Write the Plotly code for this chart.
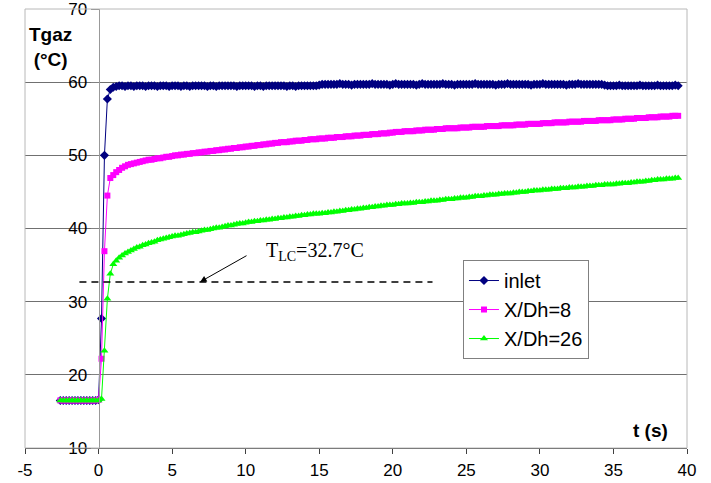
import numpy as np
import plotly.graph_objects as go

# ---------------- data ----------------
T_START = -2.6          # first sample time (s)
T_STEP = 0.2            # sampling period (s)
N_SAMPLES = 211
time_s = np.round(T_START + T_STEP * np.arange(N_SAMPLES), 1)

inlet_degC = [
    16.5, 16.5, 16.5, 16.5, 16.5, 16.5, 16.5, 16.5, 16.5, 16.5, 16.5, 16.5, 16.5,
    16.6, 27.7, 50.0, 57.7, 59.0,
    59.3, 59.4, 59.5, 59.5, 59.4,
    59.5, 59.5, 59.4, 59.5, 59.5,
    59.5, 59.4, 59.5, 59.5, 59.5,
    59.4, 59.5, 59.5, 59.5, 59.4,
    59.5, 59.5, 59.5, 59.4, 59.5,
    59.5, 59.4, 59.5, 59.5, 59.5,
    59.5, 59.5, 59.4, 59.5, 59.5,
    59.4, 59.5, 59.5, 59.5, 59.5,
    59.5, 59.5, 59.4, 59.5, 59.5,
    59.5, 59.5, 59.5, 59.4, 59.5,
    59.5, 59.4, 59.5, 59.5, 59.5,
    59.5, 59.5, 59.5, 59.5, 59.4,
    59.5, 59.5, 59.4, 59.5, 59.5,
    59.5, 59.5, 59.5, 59.5, 59.5,
    59.6, 59.7, 59.7, 59.7, 59.7,
    59.7, 59.7, 59.8, 59.7, 59.7,
    59.7, 59.6, 59.7, 59.7, 59.7,
    59.7, 59.7, 59.7, 59.8, 59.7,
    59.7, 59.7, 59.7, 59.7, 59.6,
    59.7, 59.8, 59.7, 59.7, 59.7,
    59.7, 59.7, 59.7, 59.6, 59.7,
    59.8, 59.7, 59.7, 59.7, 59.7,
    59.7, 59.7, 59.8, 59.7, 59.7,
    59.7, 59.6, 59.7, 59.7, 59.7,
    59.7, 59.7, 59.7, 59.8, 59.7,
    59.7, 59.7, 59.7, 59.7, 59.7,
    59.6, 59.7, 59.7, 59.7, 59.8,
    59.7, 59.7, 59.7, 59.7, 59.7,
    59.7, 59.7, 59.6, 59.7, 59.7,
    59.7, 59.8, 59.7, 59.7, 59.7,
    59.7, 59.7, 59.7, 59.7, 59.6,
    59.7, 59.7, 59.7, 59.8, 59.7,
    59.7, 59.7, 59.7, 59.7, 59.7,
    59.7, 59.7, 59.6, 59.5, 59.5,
    59.5, 59.5, 59.6, 59.5, 59.5,
    59.5, 59.5, 59.5, 59.5, 59.6,
    59.5, 59.5, 59.5, 59.5, 59.5,
    59.6, 59.5, 59.5, 59.5, 59.5,
    59.5, 59.6, 59.5,
]

xdh8_degC = [
    16.5, 16.5, 16.5, 16.5, 16.5, 16.5, 16.5, 16.5, 16.5, 16.5, 16.5, 16.5, 16.5,
    16.6, 22.2, 36.9, 44.5, 46.9,
    47.3, 47.7, 48.0, 48.3, 48.5,
    48.7, 48.8, 48.9, 49.0, 49.1,
    49.2, 49.3, 49.4, 49.4, 49.5,
    49.6, 49.6, 49.7, 49.8, 49.8,
    49.9, 50.0, 50.0, 50.1, 50.1,
    50.2, 50.2, 50.3, 50.3, 50.4,
    50.4, 50.5, 50.5, 50.6, 50.6,
    50.7, 50.7, 50.8, 50.8, 50.9,
    50.9, 51.0, 51.0, 51.1, 51.1,
    51.2, 51.2, 51.3, 51.3, 51.4,
    51.4, 51.5, 51.5, 51.6, 51.6,
    51.7, 51.7, 51.8, 51.8, 51.8,
    51.9, 51.9, 52.0, 52.0, 52.0,
    52.1, 52.1, 52.2, 52.2, 52.2,
    52.3, 52.3, 52.3, 52.4, 52.4,
    52.4, 52.5, 52.5, 52.5, 52.6,
    52.6, 52.6, 52.7, 52.7, 52.7,
    52.8, 52.8, 52.8, 52.9, 52.9,
    52.9, 53.0, 53.0, 53.0, 53.1,
    53.1, 53.2, 53.2, 53.2, 53.3,
    53.3, 53.3, 53.3, 53.4, 53.4,
    53.4, 53.5, 53.5, 53.5, 53.5,
    53.6, 53.6, 53.6, 53.7, 53.7,
    53.7, 53.7, 53.7, 53.8, 53.8,
    53.8, 53.8, 53.9, 53.9, 53.9,
    53.9, 53.9, 54.0, 54.0, 54.0,
    54.0, 54.0, 54.1, 54.1, 54.1,
    54.1, 54.1, 54.2, 54.2, 54.2,
    54.2, 54.3, 54.3, 54.3, 54.3,
    54.3, 54.4, 54.4, 54.4, 54.4,
    54.5, 54.5, 54.5, 54.5, 54.5,
    54.6, 54.6, 54.6, 54.6, 54.6,
    54.7, 54.7, 54.7, 54.7, 54.7,
    54.8, 54.8, 54.8, 54.8, 54.8,
    54.9, 54.9, 54.9, 54.9, 55.0,
    55.0, 55.0, 55.0, 55.1, 55.1,
    55.1, 55.1, 55.2, 55.2, 55.2,
    55.2, 55.3, 55.3, 55.3, 55.3,
    55.4, 55.4, 55.4,
]

xdh26_degC = [
    16.5, 16.5, 16.5, 16.5, 16.5, 16.5, 16.5, 16.5, 16.5, 16.5, 16.5, 16.5, 16.5,
    16.5, 16.7, 23.3, 30.4, 33.8,
    35.1, 35.6, 36.0, 36.3, 36.6,
    36.8, 37.0, 37.2, 37.4, 37.5,
    37.7, 37.8, 38.0, 38.1, 38.2,
    38.4, 38.5, 38.6, 38.7, 38.8,
    38.9, 39.0, 39.0, 39.1, 39.2,
    39.3, 39.4, 39.5, 39.5, 39.6,
    39.7, 39.8, 39.8, 39.9, 40.0,
    40.1, 40.1, 40.2, 40.3, 40.4,
    40.4, 40.5, 40.6, 40.7, 40.7,
    40.8, 40.9, 40.9, 41.0, 41.0,
    41.1, 41.1, 41.2, 41.2, 41.3,
    41.3, 41.4, 41.4, 41.5, 41.5,
    41.6, 41.6, 41.7, 41.7, 41.8,
    41.8, 41.9, 41.9, 42.0, 42.0,
    42.0, 42.1, 42.1, 42.2, 42.2,
    42.3, 42.3, 42.4, 42.4, 42.5,
    42.5, 42.6, 42.6, 42.7, 42.7,
    42.8, 42.8, 42.9, 42.9, 43.0,
    43.0, 43.1, 43.1, 43.2, 43.2,
    43.2, 43.3, 43.3, 43.4, 43.4,
    43.4, 43.5, 43.5, 43.6, 43.6,
    43.6, 43.7, 43.7, 43.8, 43.8,
    43.8, 43.9, 43.9, 44.0, 44.0,
    44.0, 44.1, 44.1, 44.2, 44.2,
    44.2, 44.3, 44.3, 44.4, 44.4,
    44.4, 44.5, 44.5, 44.6, 44.6,
    44.6, 44.7, 44.7, 44.8, 44.8,
    44.8, 44.9, 44.9, 45.0, 45.0,
    45.0, 45.1, 45.1, 45.2, 45.2,
    45.2, 45.3, 45.3, 45.3, 45.4,
    45.4, 45.4, 45.5, 45.5, 45.5,
    45.6, 45.6, 45.6, 45.7, 45.7,
    45.7, 45.8, 45.8, 45.8, 45.9,
    45.9, 45.9, 46.0, 46.0, 46.0,
    46.0, 46.1, 46.1, 46.2, 46.2,
    46.2, 46.3, 46.3, 46.4, 46.4,
    46.4, 46.5, 46.5, 46.6, 46.6,
    46.7, 46.7, 46.7, 46.8, 46.8,
    46.8, 46.9, 46.9,
]

series_names = ["inlet", "X/Dh=8", "X/Dh=26"]

# liquid-crystal reference temperature line
T_LC = 32.7
tlc_line_t = [-1.3, 22.7]
tlc_line_T = [T_LC, T_LC]

x_ticks = [-5, 0, 5, 10, 15, 20, 25, 30, 35, 40]
x_ticklabels = ["-5", "0", "5", "10", "15", "20", "25", "30", "35", "40"]
y_ticks = [10, 20, 30, 40, 50, 60, 70]

for arr in (inlet_degC, xdh8_degC, xdh26_degC):
    if len(arr) != N_SAMPLES:
        raise ValueError(f"series length {len(arr)} != {N_SAMPLES}")

# ---------------- figure ----------------
fig = go.Figure()

styles = [
    dict(color="#000080", symbol="diamond", size=7),
    dict(color="#FF00FF", symbol="square", size=6),
    dict(color="#00FF00", symbol="triangle-up", size=7),
]
for name, vals, st in zip(series_names, [inlet_degC, xdh8_degC, xdh26_degC], styles):
    fig.add_trace(go.Scatter(
        x=time_s, y=vals, name=name, mode="lines+markers",
        line=dict(color=st["color"], width=1),
        marker=dict(color=st["color"], symbol=st["symbol"], size=st["size"],
                    line=dict(width=0)),
    ))

fig.add_trace(go.Scatter(
    x=tlc_line_t, y=tlc_line_T, mode="lines", showlegend=False,
    line=dict(color="black", width=1.5, dash="7px,5px"),
))

fig.update_layout(
    width=711, height=483,
    margin=dict(l=25, r=24, t=9, b=35, autoexpand=False),
    paper_bgcolor="white", plot_bgcolor="white",
    font=dict(family="Liberation Sans, Arial, sans-serif", size=17, color="black"),
    xaxis=dict(
        range=[-5, 40], tickvals=x_ticks, ticktext=x_ticklabels,
        ticks="outside", ticklen=5,
        tickcolor="#404040", showline=True, linecolor="#404040", linewidth=1,
        showgrid=False, zeroline=False, automargin=False, ticklabelstandoff=2,
        ticklabeloverflow="allow",
    ),
    yaxis=dict(
        range=[10, 70], tickvals=y_ticks, ticks="outside", ticklen=8,
        tickcolor="#808080", anchor="free", position=5 / 45,
        showline=True, linecolor="#999999", linewidth=1,
        showgrid=True, gridcolor="#707070", gridwidth=1,
        zeroline=False, automargin=False, ticklabeloverflow="allow",
    ),
    legend=dict(
        x=0.6616, y=0.4282, xanchor="left", yanchor="top",
        bgcolor="white", bordercolor="#808080", borderwidth=1,
        font=dict(size=20, family="Liberation Sans, Arial, sans-serif"),
        itemwidth=30,
    ),
    shapes=[dict(type="rect", xref="paper", yref="paper", x0=0, x1=1, y0=0, y1=1,
                 line=dict(color="#b8b8b8", width=1), layer="above")],
    annotations=[
        dict(text="<b>Tgaz</b><br><b>(°C)</b>", xref="paper", yref="paper",
             x=0.0378, y=0.9134, xanchor="center", yanchor="middle",
             showarrow=False, font=dict(size=19)),
        dict(text="<b>t (s)</b>", xref="paper", yref="paper",
             x=0.9456, y=0.041, xanchor="center", yanchor="middle",
             showarrow=False, font=dict(size=19)),
        dict(text="T<sub>LC</sub>=32.7°C", xref="x", yref="y",
             x=14.7, y=36.8, xanchor="center", yanchor="middle", showarrow=False,
             font=dict(size=20, family="Liberation Serif, Times New Roman, serif")),
        dict(text=" ", xref="x", yref="y", axref="x", ayref="y",
             x=6.9, y=32.7, ax=10.16, ay=36.4, showarrow=True,
             arrowhead=2, arrowsize=1.3, arrowwidth=1, arrowcolor="black",
             standoff=0, startstandoff=0, font=dict(size=1)),
    ],
)

fig.write_html(
    "out.html",
    config={"displayModeBar": False},
    post_script="document.body.style.margin='0';document.body.style.overflow='hidden';",
)
